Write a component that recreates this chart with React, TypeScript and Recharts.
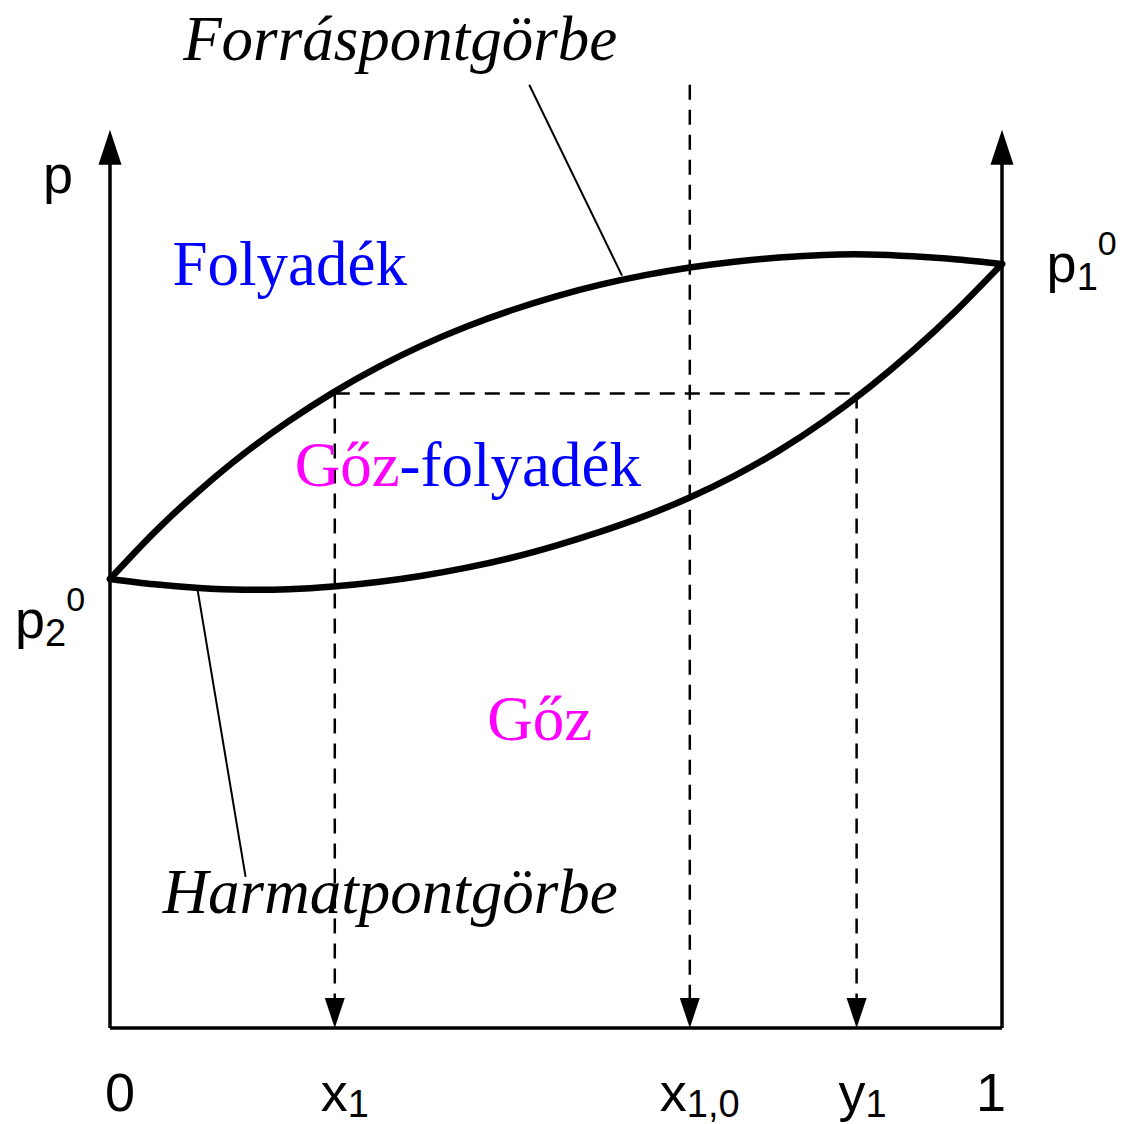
import React from "react";
import { LineChart, Line, XAxis, YAxis, ReferenceLine, ReferenceDot } from "recharts";

// composition of component 1 (mole fraction) and pressure
const X1 = 0.252;
const X10 = 0.65;
const Y1 = 0.837;
const P_TIE = 70.5;
const P_FEED_TOP = 104.8;
const P_AXIS_TOP = 99.8;

const COMP_X = [
  0, 0.05, 0.1, 0.15, 0.2, 0.25, 0.3, 0.35, 0.4, 0.45, 0.5,
  0.55, 0.6, 0.65, 0.7, 0.75, 0.8, 0.85, 0.9, 0.95, 1,
];
// boiling point (liquid) curve
const BUBBLE_P = [
  49.9, 55.1, 59.7, 63.8, 67.4, 70.6, 73.4, 75.85, 77.95, 79.75, 81.3,
  82.6, 83.65, 84.5, 85.15, 85.6, 85.9, 85.95, 85.75, 85.4, 84.9,
];
// dew point (vapour) curve
const DEW_P = [
  49.9, 49.3, 48.9, 48.7, 48.75, 49.05, 49.55, 50.25, 51.15, 52.25, 53.6,
  55.15, 56.9, 58.95, 61.35, 64.15, 67.4, 71.1, 75.25, 79.85, 84.9,
];

const X_TICKS = [0, X1, X10, Y1, 1];
const X_TICK_MAIN = ["0", "x", "x", "y", "1"];
const X_TICK_SUB = ["", "1", "1,0", "1", ""];

const bubbleData = COMP_X.map((x, i) => ({ x, p: BUBBLE_P[i] }));
const dewData = COMP_X.map((x, i) => ({ x, p: DEW_P[i] }));

const SANS = "'Liberation Sans', Arial, sans-serif";
const SERIF = "'Liberation Serif', 'Times New Roman', serif";

// horizontal nudge of each bottom label relative to its tick
const TICK_DX = [-5, -14, -30, -18, -26];

function BottomTick(props: any) {
  const { x, payload, index } = props;
  const i = X_TICKS.indexOf(payload.value);
  const k = i >= 0 ? i : index;
  return (
    <text x={x + TICK_DX[k]} y={1111} fontFamily={SANS} fontSize={54} fill="#000">
      <tspan>{X_TICK_MAIN[k]}</tspan>
      {X_TICK_SUB[k] && (
        <tspan fontSize={38} dy={6}>
          {X_TICK_SUB[k]}
        </tspan>
      )}
    </text>
  );
}

const upArrow = (props: any) => {
  const { cx, cy } = props;
  return <polygon points={`${cx},${cy} ${cx - 11.5},${cy + 35} ${cx + 11.5},${cy + 35}`} fill="#000" />;
};

const downArrow = (props: any) => {
  const { cx, cy } = props;
  return <polygon points={`${cx},${cy} ${cx - 10},${cy - 30} ${cx + 10},${cy - 30}`} fill="#000" />;
};

const serifText = (content: React.ReactNode, opts: { italic?: boolean; fill?: string } = {}) => (props: any) => (
  <text
    x={props.cx}
    y={props.cy}
    fontFamily={SERIF}
    fontSize={63}
    fontStyle={opts.italic ? "italic" : "normal"}
    fill={opts.fill ?? "#000"}
  >
    {content}
  </text>
);

const pressureLabel = (sub: string, sup: string) => (props: any) => (
  <text x={props.cx} y={props.cy} fontFamily={SANS} fontSize={54} fill="#000">
    <tspan>p</tspan>
    {sub && (
      <tspan fontSize={38} dy={8}>
        {sub}
      </tspan>
    )}
    {sup && (
      <tspan fontSize={34} dy={-35}>
        {sup}
      </tspan>
    )}
  </text>
);

const dashed = { stroke: "#000", strokeWidth: 2.5, strokeDasharray: "15 10" };

const curveStyle = {
  type: "natural" as const,
  stroke: "#000",
  strokeWidth: 6.5,
  strokeLinejoin: "round" as const,
  strokeLinecap: "round" as const,
  dot: false,
  activeDot: false,
  isAnimationActive: false,
};

export default function App() {
  return (
    <div style={{ width: 1122, height: 1124, background: "#fff" }}>
      <style>{"body{margin:0}"}</style>
      <LineChart width={1122} height={1124} margin={{ top: 38, right: 120, bottom: 36, left: 110 }}>
        <XAxis
          type="number"
          dataKey="x"
          domain={[0, 1]}
          ticks={X_TICKS}
          interval={0}
          tick={BottomTick}
          axisLine={false}
          tickLine={false}
          height={60}
        />
        <YAxis type="number" dataKey="p" domain={[0, 110]} hide />

        {/* axes */}
        <ReferenceLine segment={[{ x: 0, y: 0 }, { x: 1, y: 0 }]} stroke="#000" strokeWidth={3.5} />
        <ReferenceLine segment={[{ x: 0, y: 0 }, { x: 0, y: P_AXIS_TOP - 3 }]} stroke="#000" strokeWidth={3.5} />
        <ReferenceLine segment={[{ x: 1, y: 0 }, { x: 1, y: P_AXIS_TOP - 3 }]} stroke="#000" strokeWidth={3.5} />
        <ReferenceDot x={0} y={P_AXIS_TOP} shape={upArrow} ifOverflow="visible" />
        <ReferenceDot x={1} y={P_AXIS_TOP} shape={upArrow} ifOverflow="visible" />

        {/* tie line and composition drop lines */}
        <ReferenceLine segment={[{ x: X1, y: P_TIE }, { x: Y1, y: P_TIE }]} {...dashed} />
        <ReferenceLine segment={[{ x: X1, y: P_TIE }, { x: X1, y: 2 }]} {...dashed} />
        <ReferenceLine segment={[{ x: X10, y: P_FEED_TOP }, { x: X10, y: 2 }]} {...dashed} />
        <ReferenceLine segment={[{ x: Y1, y: P_TIE }, { x: Y1, y: 2 }]} {...dashed} />
        <ReferenceDot x={X1} y={0} shape={downArrow} ifOverflow="visible" />
        <ReferenceDot x={X10} y={0} shape={downArrow} ifOverflow="visible" />
        <ReferenceDot x={Y1} y={0} shape={downArrow} ifOverflow="visible" />

        {/* leader lines to the curve names */}
        <ReferenceLine segment={[{ x: 0.47, y: 104.8 }, { x: 0.574, y: 83.6 }]} stroke="#000" strokeWidth={2} />
        <ReferenceLine segment={[{ x: 0.098, y: 48.8 }, { x: 0.152, y: 16.8 }]} stroke="#000" strokeWidth={2} />

        <Line data={bubbleData} dataKey="p" {...curveStyle} />
        <Line data={dewData} dataKey="p" {...curveStyle} />

        {/* region and curve names */}
        <ReferenceDot x={0.082} y={107.6} ifOverflow="visible" shape={serifText("Forráspontgörbe", { italic: true })} />
        <ReferenceDot x={0.059} y={12.8} ifOverflow="visible" shape={serifText("Harmatpontgörbe", { italic: true })} />
        <ReferenceDot x={0.07} y={82.6} ifOverflow="visible" shape={serifText("Folyadék", { fill: "#0000ff" })} />
        <ReferenceDot
          x={0.207}
          y={60.2}
          ifOverflow="visible"
          shape={serifText(
            <>
              <tspan fill="#ff00ff">Gőz</tspan>
              <tspan fill="#0000ff">-folyadék</tspan>
            </>
          )}
        />
        <ReferenceDot x={0.423} y={32} ifOverflow="visible" shape={serifText("Gőz", { fill: "#ff00ff" })} />

        {/* pressure labels */}
        <ReferenceDot x={-0.075} y={92.8} ifOverflow="visible" shape={pressureLabel("", "")} />
        <ReferenceDot x={1.05} y={82.9} ifOverflow="visible" shape={pressureLabel("1", "0")} />
        <ReferenceDot x={-0.1065} y={43.3} ifOverflow="visible" shape={pressureLabel("2", "0")} />
      </LineChart>
    </div>
  );
}
